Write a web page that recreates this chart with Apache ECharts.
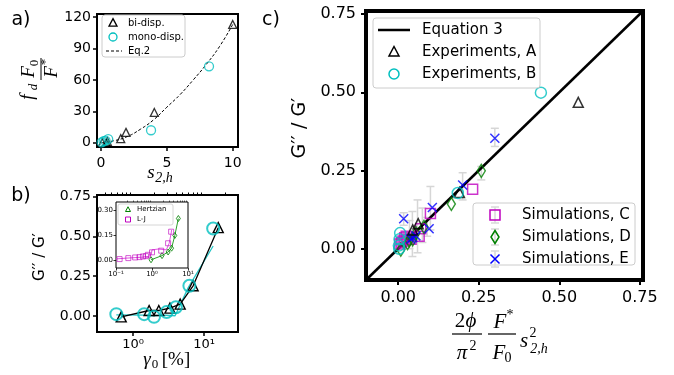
<!DOCTYPE html>
<html>
<head>
<meta charset="utf-8">
<script src="https://cdn.jsdelivr.net/npm/echarts@6/dist/echarts.min.js"></script>
<style>html,body{margin:0;background:#fff}#main{width:674px;height:375px}</style>
</head>
<body>
<div id="main"></div>
<script>
// ---- panel a) : f_d F0/F* vs s_2,h
var aBiX = [0.1, 0.4, 0.5, 1.5, 1.9, 4.05, 10.0];
var aBiY = [0, 0, 1, 4, 10, 29, 113];
var aMonoX = [0.05, 0.2, 0.35, 0.55, 3.8, 8.2];
var aMonoY = [0.5, 1.5, 2, 3.5, 12, 73];
var aEqX = [0, 1, 2, 3, 4, 5, 6, 7, 8, 9, 10];
var aEqY = [0, 2, 6, 13, 22, 34, 46, 60, 75, 92, 113];
var aXTicks = [0, 5, 10];
var aYTicks = [0, 30, 60, 90, 120];

// ---- panel b) : G''/G' vs gamma0
var bTriX = [0.68, 1.68, 2.3, 3.3, 4.6, 7.0, 15.8];
var bTriY = [-0.005, 0.035, 0.035, 0.05, 0.075, 0.19, 0.555];
var bCircX = [0.58, 1.43, 1.97, 2.96, 4.0, 6.2, 13.4];
var bCircY = [0.012, 0.012, -0.005, 0.025, 0.055, 0.19, 0.55];
var bFitX = [0.58, 1.4, 1.9, 2.8, 3.9, 6.0, 13.4];
var bFitY = [0.008, 0.006, 0.002, 0.006, 0.002, 0.18, 0.44];
var bXTicks = [1, 10];
var bXMinor = [0.4, 0.5, 0.6, 0.7, 0.8, 0.9, 2, 3, 4, 5, 6, 7, 8, 9, 20];
var bYTicks = [0, 0.25, 0.5, 0.75];

// ---- inset of b)
var inHzX = [0.94, 1.9, 2.8, 3.5, 4.3, 5.4];
var inHzY = [0.0, 0.025, 0.047, 0.07, 0.147, 0.25];
var inLjX = [0.126, 0.22, 0.34, 0.45, 0.56, 0.68, 0.77, 1.0, 1.8, 2.8, 3.4];
var inLjY = [0.004, 0.01, 0.014, 0.016, 0.02, 0.022, 0.03, 0.045, 0.055, 0.1, 0.17];
var inLjLineX = [0.1, 0.2, 0.5, 0.8, 0.95, 1.0, 1.5, 2.5, 3.0, 3.4, 3.5];
var inLjLineY = [0.005, 0.01, 0.015, 0.02, 0.03, 0.06, 0.065, 0.06, 0.1, 0.16, 0.18];
var inXTicks = [0.1, 1, 10];
var inXMinor = [0.2, 0.3, 0.4, 0.5, 0.6, 0.7, 0.8, 0.9, 2, 3, 4, 5, 6, 7, 8, 9];
var inYTicks = [0, 0.15, 0.3];

// ---- panel c)
var cEqX = [-0.1, 0.76];
var cEqY = [-0.1, 0.76];
var cAX = [0.559, 0.19, 0.062, 0.045];
var cAY = [0.468, 0.18, 0.08, 0.06];
var cBX = [0.443, 0.185, 0.006, 0.004, 0.002, 0.003];
var cBY = [0.499, 0.178, 0.05, 0.03, 0.01, 0.0];
var cCX = [0.231, 0.10, 0.07, 0.065, 0.04, 0.03, 0.025, 0.02, 0.015, 0.01, 0.005];
var cCY = [0.19, 0.113, 0.064, 0.04, 0.03, 0.03, 0.04, 0.035, 0.025, 0.02, 0.015];
var cDX = [0.258, 0.165, 0.08, 0.055, 0.045, 0.034, 0.029, 0.008];
var cDY = [0.249, 0.143, 0.07, 0.05, 0.03, 0.027, 0.018, -0.003];
var cEX = [0.30, 0.20, 0.106, 0.017, 0.096, 0.055, 0.045, 0.039];
var cEY = [0.353, 0.204, 0.132, 0.096, 0.064, 0.041, 0.035, 0.031];
var cErrX = [0.30, 0.258, 0.20, 0.10, 0.075, 0.06, 0.044, 0.035, 0.017, 0.09];
var cErrLo = [0.327, 0.22, 0.156, 0.06, 0.02, -0.013, -0.025, 0.0, 0.075, 0.04];
var cErrHi = [0.385, 0.263, 0.243, 0.199, 0.13, 0.156, 0.119, 0.09, 0.115, 0.1];
var cTicks = [0, 0.25, 0.5, 0.75];

function zip(xs, ys) { return xs.map(function (x, i) { return [x, ys[i]]; }); }
var supMap = { '-': '\u207b', '0': '\u2070', '1': '\u00b9' };
function logLabel(v) {
	var e = String(Math.round(Math.log10(v)));
	return '10' + e.split('').map(function (c) { return supMap[c]; }).join('');
}

var CYAN = '#00bfbf', MAG = '#bf00bf', GRN = '#008000', BLU = '#0000ff';
var open = function (c, w) { return { color: 'rgba(0,0,0,0)', borderColor: c, borderWidth: w || 1.4 }; };
var xMark = 'path://M0,0L10,10M10,0L0,10';

function axisBase(gi, type, min, max, ticks, o) {
	return {
		gridIndex: gi, type: type, min: min, max: max,
		axisLine: { show: false, onZero: false }, splitLine: { show: false },
		axisTick: { show: true, inside: false, length: o.tl, customValues: ticks, lineStyle: { color: '#000', width: o.tw } },
		axisLabel: { show: o.lab !== false, customValues: ticks, margin: o.m, color: '#000', fontSize: o.fs, fontFamily: 'DejaVu Sans', formatter: o.fmt }
	};
}
var fix2 = function (v) { return v.toFixed(2); };

// text helper for the math-style labels
function mt(x, y, text, size, italic, rot, fam) {
	return {
		type: 'text', x: x, y: y, rotation: rot || 0, silent: true, z: 100,
		style: {
			text: text, fill: '#000',
			font: (italic ? 'italic ' : '') + size + 'px ' + (fam || '"Liberation Serif"'),
			textAlign: 'center', textVerticalAlign: 'middle', align: 'center', verticalAlign: 'middle'
		}
	};
}
function hline(x1, x2, y, w, c, dash) {
	return { type: 'line', silent: true, z: 100, shape: { x1: x1, y1: y, x2: x2, y2: y }, style: { stroke: c || '#000', lineWidth: w, lineDash: dash || null } };
}
function vline(x, y1, y2, w, c) {
	return { type: 'line', silent: true, z: 100, shape: { x1: x, y1: y1, x2: x, y2: y2 }, style: { stroke: c || '#000', lineWidth: w } };
}
function box(x, y, w, h) {
	return { type: 'rect', silent: true, z: 99, shape: { x: x, y: y, width: w, height: h, r: 3 }, style: { fill: 'rgba(255,255,255,0.85)', stroke: '#cccccc', lineWidth: 1 } };
}
function tri(cx, cy, s, c, w) {
	return { type: 'polygon', silent: true, z: 100, shape: { points: [[cx, cy - s * 0.55], [cx + s * 0.5, cy + s * 0.4], [cx - s * 0.5, cy + s * 0.4]] }, style: { fill: 'none', stroke: c, lineWidth: w } };
}
function circ(cx, cy, r, c, w) {
	return { type: 'circle', silent: true, z: 100, shape: { cx: cx, cy: cy, r: r }, style: { fill: 'none', stroke: c, lineWidth: w } };
}
function sq(cx, cy, s, c, w) {
	return { type: 'rect', silent: true, z: 100, shape: { x: cx - s / 2, y: cy - s / 2, width: s, height: s }, style: { fill: 'none', stroke: c, lineWidth: w } };
}
function diam(cx, cy, wd, ht, c, w) {
	return { type: 'polygon', silent: true, z: 100, shape: { points: [[cx, cy - ht / 2], [cx + wd / 2, cy], [cx, cy + ht / 2], [cx - wd / 2, cy]] }, style: { fill: 'none', stroke: c, lineWidth: w } };
}
function cross(cx, cy, s, c, w) {
	return { type: 'polyline', silent: true, z: 100, shape: { points: [[cx - s / 2, cy - s / 2], [cx + s / 2, cy + s / 2], [cx, cy], [cx + s / 2, cy - s / 2], [cx - s / 2, cy + s / 2]] }, style: { fill: 'none', stroke: c, lineWidth: w } };
}
function ltext(x, y, t, fs) {
	return { type: 'text', x: x, y: y, silent: true, z: 100, style: { text: t, fill: '#000', font: fs + 'px "DejaVu Sans"', textAlign: 'left', textVerticalAlign: 'middle', align: 'left', verticalAlign: 'middle' } };
}
function errGlyph(cx, cy) {
	return [vline(cx, cy - 8, cy + 8, 1.5, '#d9d9d9'), hline(cx - 4, cx + 4, cy - 8, 1.5, '#d9d9d9'), hline(cx - 4, cx + 4, cy + 8, 1.5, '#d9d9d9')];
}

var graphics = [
	// panel letters
	mt(21, 20, 'a)', 19, false, 0, '"DejaVu Sans"'),
	mt(21, 196, 'b)', 19, false, 0, '"DejaVu Sans"'),
	mt(271, 20, 'c)', 19, false, 0, '"DejaVu Sans"'),
	// a) y label  f_d F0/F*
	mt(29, 72, 'F', 19, true, Math.PI / 2), mt(35, 63, '0', 13, false, Math.PI / 2),
	vline(41, 58, 80, 1),
	mt(52, 72, 'F', 19, true, Math.PI / 2), mt(46, 62, '*', 13, false, Math.PI / 2),
	mt(28, 97, 'f', 19, true, Math.PI / 2), mt(34, 87, 'd', 13, true, Math.PI / 2),
	// a) x label s_2,h
	mt(151, 173, 's', 19, true), mt(164, 178, '2,h', 14, true),
	// b) labels
	mt(40, 257, 'G\u2032\u2032 / G\u2032', 15, false, Math.PI / 2, '"DejaVu Sans"'),
	mt(147, 360, '\u03b3', 19, true), mt(155, 365, '0', 13, false), mt(176, 360, '[%]', 19, false),
	// c) labels
	mt(300, 128, 'G\u2032\u2032 / G\u2032', 19, false, Math.PI / 2, '"DejaVu Sans"'),
	mt(460, 321, '2', 21, false), mt(471, 321, '\u03d5', 21, true),
	hline(452, 482, 334, 1.2),
	mt(462, 353, '\u03c0', 21, true), mt(473, 346, '2', 14, false),
	mt(500, 322, 'F', 21, true), mt(510, 315, '*', 14, false),
	hline(488, 516, 334, 1.2),
	mt(499, 353, 'F', 21, true), mt(508, 358, '0', 14, false),
	mt(524, 341, 's', 21, true), mt(533, 333, '2', 14, false), mt(539, 349, '2,h', 14, true),
	// legend a)
	box(102, 15, 83, 42),
	tri(113, 23, 8, '#000', 1.3), ltext(128, 23, 'bi-disp.', 10),
	circ(113, 37, 4, CYAN, 1.3), ltext(128, 37, 'mono-disp.', 10),
	hline(106, 122, 51, 1, '#000', [3, 2]), ltext(128, 51, 'Eq.2', 10),
	// legend inset
	{ type: 'rect', silent: true, z: 99, shape: { x: 118, y: 204, width: 55, height: 21, r: 2 }, style: { fill: '#fff', stroke: '#cccccc', lineWidth: 0.8 } },
	tri(128, 209.5, 5, GRN, 1), ltext(137, 209.5, 'Hertzian', 7),
	sq(128, 219.5, 5, MAG, 1), ltext(137, 219.5, 'L-J', 7),
	// legend c) top
	box(373, 18, 167, 70),
	hline(378, 410, 30, 2.5), ltext(422, 30, 'Equation 3', 15),
	tri(394, 52, 10, '#000', 1.5), ltext(422, 52, 'Experiments, A', 15),
	circ(394, 74, 5, CYAN, 1.5), ltext(422, 74, 'Experiments, B', 15),
	// legend c) bottom
	box(473, 203, 162, 62)
].concat(errGlyph(495, 215), errGlyph(495, 237), errGlyph(495, 259), [
	sq(495, 215, 10, MAG, 1.5), ltext(522, 215, 'Simulations, C', 15),
	diam(495, 237, 8, 13, GRN, 1.5), ltext(522, 237, 'Simulations, D', 15),
	cross(495, 259, 9, BLU, 1.5), ltext(522, 259, 'Simulations, E', 15)
]);

var optionFig = {
	animation: false,
	backgroundColor: '#fff',
	grid: [
		{ left: 97, top: 14, width: 141, height: 133, show: true, borderColor: '#000', borderWidth: 2, backgroundColor: '#fff' },
		{ left: 97, top: 195, width: 141, height: 137, show: true, borderColor: '#000', borderWidth: 2, backgroundColor: '#fff' },
		{ left: 116, top: 202, width: 72, height: 66, show: true, borderColor: '#000', borderWidth: 1, backgroundColor: '#fff' },
		{ left: 366, top: 11, width: 277, height: 269, show: true, borderColor: '#000', borderWidth: 4, backgroundColor: '#fff' }
	],
	xAxis: [
		axisBase(0, 'value', -0.3, 10.4, aXTicks, { tl: 4, tw: 1.5, m: 9, fs: 14 }),
		axisBase(1, 'log', 0.31, 30, bXTicks, { tl: 4, tw: 1.5, m: 6, fs: 13, fmt: logLabel }),
		axisBase(1, 'log', 0.31, 30, bXMinor, { tl: 2.5, tw: 1, m: 6, fs: 13, lab: false }),
		axisBase(2, 'log', 0.1, 10, inXTicks, { tl: 2.5, tw: 0.8, m: 3, fs: 7, fmt: logLabel }),
		axisBase(2, 'log', 0.1, 10, inXMinor, { tl: 1.5, tw: 0.6, m: 3, fs: 7, lab: false }),
		axisBase(3, 'value', -0.1, 0.76, cTicks, { tl: 5, tw: 2, m: 10, fs: 16, fmt: fix2 })
	],
	yAxis: [
		axisBase(0, 'value', -4, 123, aYTicks, { tl: 4, tw: 1.5, m: 6, fs: 14 }),
		axisBase(1, 'value', -0.1, 0.76, bYTicks, { tl: 4, tw: 1.5, m: 6, fs: 14, fmt: fix2 }),
		axisBase(2, 'value', -0.05, 0.35, inYTicks, { tl: 2.5, tw: 0.8, m: 3, fs: 7, fmt: fix2 }),
		axisBase(3, 'value', -0.1, 0.76, cTicks, { tl: 5, tw: 2, m: 10, fs: 16, fmt: fix2 })
	],
	graphic: { elements: graphics },
	series: [
		// a)
		{ name: 'bi-disp.', type: 'scatter', xAxisIndex: 0, yAxisIndex: 0, data: zip(aBiX, aBiY), symbol: 'triangle', symbolSize: 8, itemStyle: open('#000', 1.3), z: 3 },
		{ name: 'mono-disp.', type: 'scatter', xAxisIndex: 0, yAxisIndex: 0, data: zip(aMonoX, aMonoY), symbol: 'circle', symbolSize: 9, itemStyle: open(CYAN, 1.3), z: 3 },
		{ name: 'Eq.2', type: 'line', xAxisIndex: 0, yAxisIndex: 0, data: zip(aEqX, aEqY), smooth: true, showSymbol: false, lineStyle: { color: '#000', width: 1, type: [3, 2] }, z: 2 },
		// b)
		{ name: 'b-bi', type: 'line', xAxisIndex: 1, yAxisIndex: 1, data: zip(bTriX, bTriY), symbol: 'triangle', symbolSize: 10, showAllSymbol: true, lineStyle: { color: '#000', width: 1.3 }, itemStyle: open('#000', 1.4), z: 3 },
		{ name: 'b-fit', type: 'line', xAxisIndex: 1, yAxisIndex: 1, data: zip(bFitX, bFitY), showSymbol: false, lineStyle: { color: '#26c6c6', width: 1.3 }, z: 2 },
		{ name: 'b-mono', type: 'scatter', xAxisIndex: 1, yAxisIndex: 1, data: zip(bCircX, bCircY), symbol: 'circle', symbolSize: 12, itemStyle: open(CYAN, 2), z: 4 },
		// inset
		{ name: 'Hertzian', type: 'line', xAxisIndex: 3, yAxisIndex: 2, data: zip(inHzX, inHzY), symbol: 'diamond', symbolSize: [4, 6], showAllSymbol: true, lineStyle: { color: '#2ca02c', width: 1 }, itemStyle: open(GRN, 0.8), z: 3 },
		{ name: 'L-J fit', type: 'line', xAxisIndex: 3, yAxisIndex: 2, data: zip(inLjLineX, inLjLineY), showSymbol: false, lineStyle: { color: '#e055e0', width: 1 }, z: 2 },
		{ name: 'L-J', type: 'scatter', xAxisIndex: 3, yAxisIndex: 2, data: zip(inLjX, inLjY), symbol: 'rect', symbolSize: 5, itemStyle: open(MAG, 0.8), z: 3 },
		// c)
		{
			name: 'err', type: 'custom', xAxisIndex: 5, yAxisIndex: 3, z: 1, silent: true,
			data: cErrX.map(function (x, i) { return [x, cErrLo[i], cErrHi[i]]; }),
			encode: { x: 0, y: [1, 2] },
			renderItem: function (params, api) {
				var x = api.value(0);
				var p1 = api.coord([x, api.value(1)]), p2 = api.coord([x, api.value(2)]);
				var st = { stroke: '#d6d6d6', lineWidth: 1.5 };
				return {
					type: 'group', children: [
						{ type: 'line', shape: { x1: p1[0], y1: p1[1], x2: p2[0], y2: p2[1] }, style: st },
						{ type: 'line', shape: { x1: p1[0] - 4, y1: p1[1], x2: p1[0] + 4, y2: p1[1] }, style: st },
						{ type: 'line', shape: { x1: p2[0] - 4, y1: p2[1], x2: p2[0] + 4, y2: p2[1] }, style: st }
					]
				};
			}
		},
		{ name: 'Equation 3', type: 'line', xAxisIndex: 5, yAxisIndex: 3, data: zip(cEqX, cEqY), showSymbol: false, lineStyle: { color: '#000', width: 2.5 }, z: 2 },
		{ name: 'Simulations, C', type: 'scatter', xAxisIndex: 5, yAxisIndex: 3, data: zip(cCX, cCY), symbol: 'rect', symbolSize: 10, itemStyle: open(MAG, 1.5), z: 3 },
		{ name: 'Simulations, D', type: 'scatter', xAxisIndex: 5, yAxisIndex: 3, data: zip(cDX, cDY), symbol: 'diamond', symbolSize: [8, 13], itemStyle: open(GRN, 1.5), z: 3 },
		{ name: 'Simulations, E', type: 'scatter', xAxisIndex: 5, yAxisIndex: 3, data: zip(cEX, cEY), symbol: xMark, symbolSize: 9, itemStyle: open(BLU, 1.5), z: 4 },
		{ name: 'Experiments, A', type: 'scatter', xAxisIndex: 5, yAxisIndex: 3, data: zip(cAX, cAY), symbol: 'triangle', symbolSize: 10, itemStyle: open('#000', 1.5), z: 4 },
		{ name: 'Experiments, B', type: 'scatter', xAxisIndex: 5, yAxisIndex: 3, data: zip(cBX, cBY), symbol: 'circle', symbolSize: 11, itemStyle: open(CYAN, 1.5), z: 4 }
	]
};

var myChart = echarts.init(document.getElementById('main'));
myChart.setOption(optionFig);
</script>
</body>
</html>
